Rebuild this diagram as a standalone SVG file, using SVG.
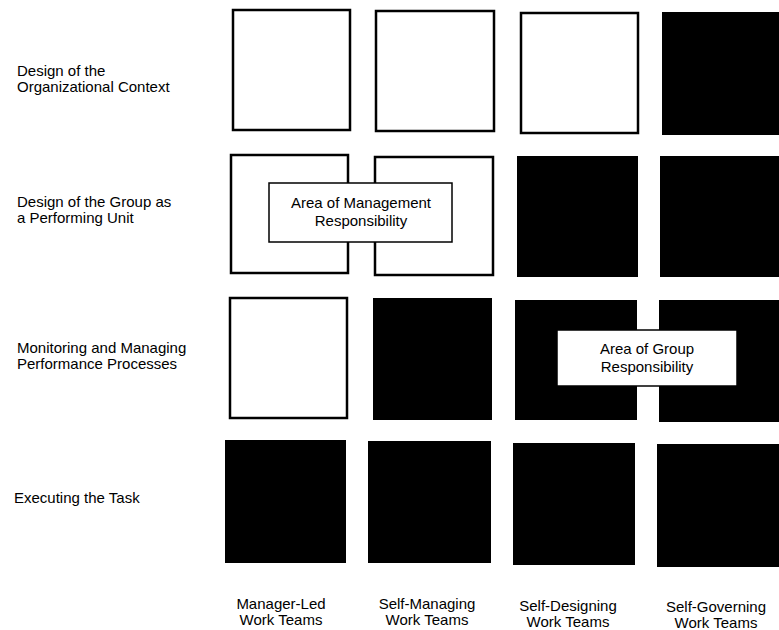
<svg xmlns="http://www.w3.org/2000/svg" width="779" height="630" viewBox="0 0 779 630">
<style>
text{font-family:"Liberation Sans",Arial,sans-serif;font-size:15px;fill:#000}
.c{text-anchor:middle}
.o{fill:#fff;stroke:#000;stroke-width:2.5}
.f{fill:#000;stroke:none}
.lb{fill:#fff;stroke:#000;stroke-width:1.5}
</style>
<rect width="779" height="630" fill="#fff"/>
<g id="row-labels">
<text x="17" y="76">Design of the</text>
<text x="17" y="92">Organizational Context</text>
<text x="17" y="207">Design of the Group as</text>
<text x="17" y="223">a Performing Unit</text>
<text x="17" y="353">Monitoring and Managing</text>
<text x="17" y="369">Performance Processes</text>
<text x="14" y="503">Executing the Task</text>
</g>
<g id="col-labels">
<text class="c" x="281" y="609">Manager-Led</text>
<text class="c" x="281" y="625">Work Teams</text>
<text class="c" x="427" y="609">Self-Managing</text>
<text class="c" x="427" y="625">Work Teams</text>
<text class="c" x="568" y="611">Self-Designing</text>
<text class="c" x="568" y="627">Work Teams</text>
<text class="c" x="716" y="612">Self-Governing</text>
<text class="c" x="716" y="628">Work Teams</text>
</g>
<g id="row1">
<rect class="o" x="233" y="10" width="117" height="120"/>
<rect class="o" x="376" y="11" width="118" height="120"/>
<rect class="o" x="521" y="13" width="117" height="120"/>
<rect class="f" x="662" y="12" width="117" height="123"/>
</g>
<g id="row2">
<rect class="o" x="231" y="155" width="117" height="118"/>
<rect class="o" x="375" y="157" width="118" height="118"/>
<rect class="f" x="517" y="156" width="121" height="121"/>
<rect class="f" x="660" y="156" width="119" height="121"/>
</g>
<g id="row3">
<rect class="o" x="230" y="298" width="117" height="120"/>
<rect class="f" x="373" y="298" width="119" height="122"/>
<rect class="f" x="515" y="300" width="122" height="120"/>
<rect class="f" x="659" y="300" width="120" height="122"/>
</g>
<g id="row4">
<rect class="f" x="225" y="440" width="121" height="123"/>
<rect class="f" x="368" y="441" width="123" height="122"/>
<rect class="f" x="513" y="443" width="122" height="122"/>
<rect class="f" x="657" y="444" width="122" height="123"/>
</g>
<g id="mgmt-label">
<rect class="lb" x="269" y="183" width="183" height="59"/>
<text class="c" x="361" y="208">Area of Management</text>
<text class="c" x="361" y="226">Responsibility</text>
</g>
<g id="group-label">
<rect class="lb" x="557" y="330" width="180" height="56"/>
<text class="c" x="647" y="354">Area of Group</text>
<text class="c" x="647" y="372">Responsibility</text>
</g>
</svg>
